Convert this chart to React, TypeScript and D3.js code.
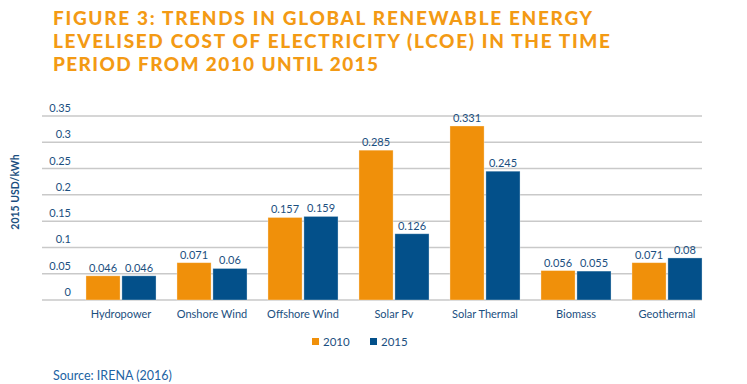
import React from 'react';
import * as d3 from 'd3';

const CATEGORIES = ['Hydropower', 'Onshore Wind', 'Offshore Wind', 'Solar Pv', 'Solar Thermal', 'Biomass', 'Geothermal'];
const SERIES = ['2010', '2015'];
const VALUES_2010 = [0.046, 0.071, 0.157, 0.285, 0.331, 0.056, 0.071];
const VALUES_2015 = [0.046, 0.06, 0.159, 0.126, 0.245, 0.055, 0.08];
const Y_TICKS = [0, 0.05, 0.1, 0.15, 0.2, 0.25, 0.3, 0.35];
const TITLE_LINES = [
  'FIGURE 3: TRENDS IN GLOBAL RENEWABLE ENERGY',
  'LEVELISED COST OF ELECTRICITY (LCOE) IN THE TIME',
  'PERIOD FROM 2010 UNTIL 2015',
];

const ORANGE = '#F0900A';
const BLUE = '#03508A';
const TEXT = '#1B4F80';
const FONT = 'Lato, "Open Sans", sans-serif';

export default function App() {
  const width = 747;
  const height = 384;

  const y = d3.scaleLinear().domain([0, 0.35]).range([300, 116]);
  const x0 = d3.scaleBand<string>().domain(CATEGORIES).range([75.5, 712.5]).paddingInner(0.23).paddingOuter(0.115);
  const x1 = d3.scaleBand<string>().domain(SERIES).range([0, x0.bandwidth()]).paddingInner(0.05);
  const color = d3.scaleOrdinal<string>().domain(SERIES).range([ORANGE, BLUE]);
  const seriesValues: Record<string, number[]> = { '2010': VALUES_2010, '2015': VALUES_2015 };
  const fmt = (v: number) => (v === 0 ? '0' : String(+v.toFixed(3)));

  const titleWidths = [539, 557, 325];

  return (
    <svg width={width} height={height} style={{ position: 'absolute', left: 0, top: 0, background: '#fff' }}>
      {TITLE_LINES.map((t, i) => (
        <text key={t} x={53} y={25 + i * 23} fill="#F39A14" fontFamily={FONT} fontWeight={900} fontSize={19}
          textLength={titleWidths[i]} lengthAdjust="spacing">{t}</text>
      ))}

      {/* grid */}
      {Y_TICKS.map(t => (
        <g key={t}>
          <line x1={42} x2={702} y1={y(t)} y2={y(t)} stroke="#c9c9c9" strokeWidth={1.5} />
          <text x={71} y={y(t) - 4} textAnchor="end" fill={TEXT} fontFamily={FONT} fontSize={11}>{fmt(t)}</text>
        </g>
      ))}

      <text transform="translate(19,192) rotate(-90)" textAnchor="middle" fill={TEXT} fontFamily={FONT}
        fontWeight={700} fontSize={10.5}>2015 USD/kWh</text>

      {/* bars */}
      {CATEGORIES.map((c, ci) => (
        <g key={c} transform={`translate(${x0(c)},0)`}>
          {SERIES.map(s => {
            const v = seriesValues[s][ci];
            const bx = x1(s) ?? 0;
            return (
              <g key={s}>
                <rect x={bx} y={y(v)} width={x1.bandwidth()} height={y(0) - y(v)} fill={color(s)}
                  stroke="#fff" strokeOpacity={0.4} strokeWidth={0.8} />
                <text x={bx + x1.bandwidth() / 2} y={y(v) - 4} textAnchor="middle" fill={TEXT}
                  fontFamily={FONT} fontSize={11}>{fmt(v)}</text>
              </g>
            );
          })}
          <text x={x0.bandwidth() / 2} y={318} textAnchor="middle" fill={TEXT} fontFamily={FONT} fontSize={11}>{c}</text>
        </g>
      ))}

      {/* legend */}
      {SERIES.map((s, i) => (
        <g key={s} transform={`translate(${312 + i * 58},338)`}>
          <rect width={7} height={7} fill={color(s)} />
          <text x={11} y={7.5} fill={TEXT} fontFamily={FONT} fontSize={11.5}>{s}</text>
        </g>
      ))}

      <text x={53} y={380} fill="#2263A3" fontFamily={FONT} fontSize={12.5}>Source: IRENA (2016)</text>
    </svg>
  );
}
